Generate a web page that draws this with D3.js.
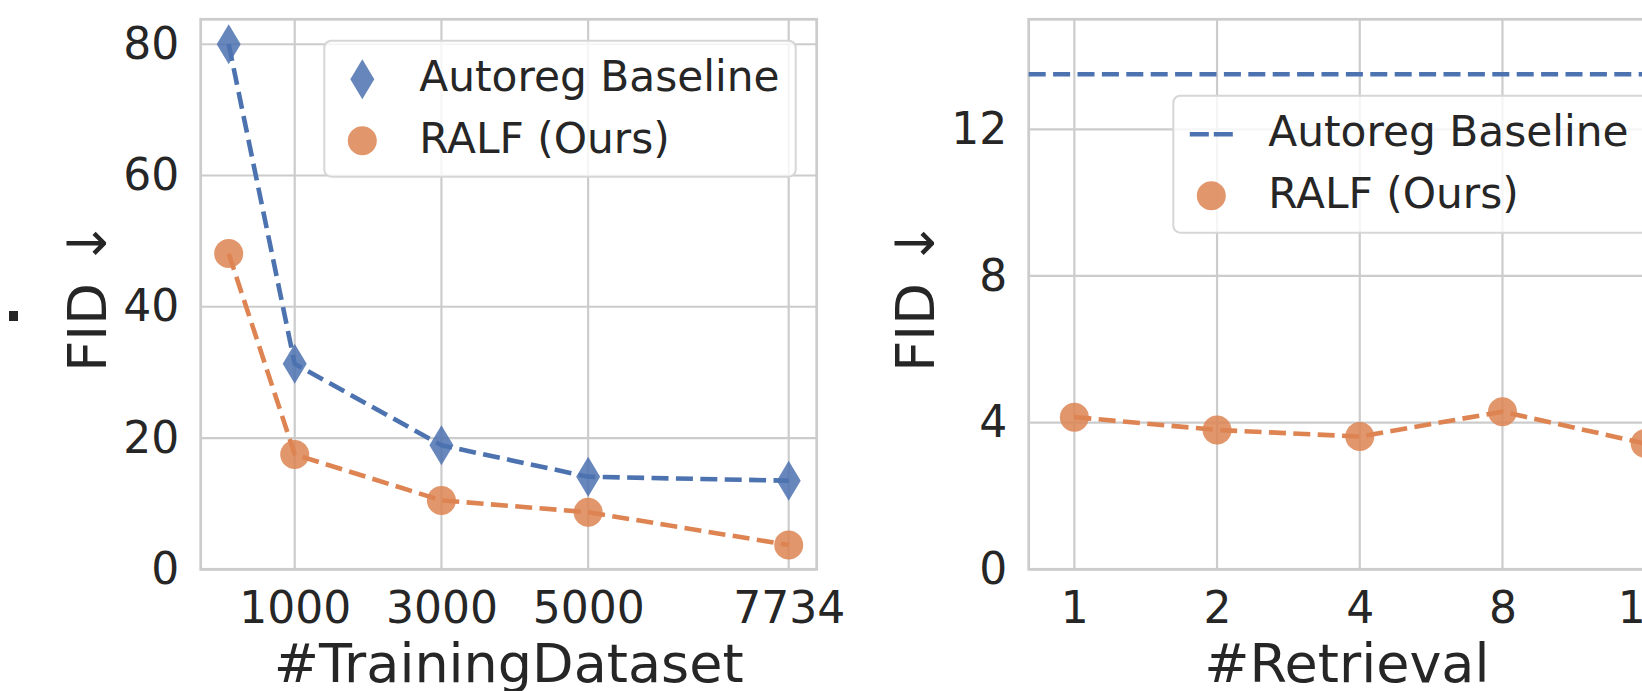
<!DOCTYPE html>
<html>
<head>
<meta charset="utf-8">
<script src="https://cdn.jsdelivr.net/npm/d3@7"></script>
<style>
  html, body { margin: 0; padding: 0; background: #ffffff; overflow: hidden; }
  svg { display: block; font-family: "DejaVu Sans", sans-serif; }
</style>
</head>
<body>
<svg id="chart" width="1642" height="691"></svg>
<script>
// ---------------- data ----------------
const trainSizes = [100, 1000, 3000, 5000, 7734];
const autoregTrain = [80.0, 31.3, 18.9, 14.1, 13.5];
const ralfTrain = [48.1, 17.5, 10.5, 8.7, 3.7];
const trainXTicks = [1000, 3000, 5000, 7734];
const trainYTicks = [0, 20, 40, 60, 80];

const retrievalCats = ["1", "2", "4", "8", "16"];
const ralfRetrieval = [4.15, 3.80, 3.62, 4.30, 3.43];
const autoregBaselineFID = 13.5;
const retrYTicks = [0, 4, 8, 12];

const seriesNames = ["Autoreg Baseline", "RALF (Ours)"];
const xLabels = ["#TrainingDataset", "#Retrieval"];
const yLabel = "FID \u2193";

// ---------------- style ----------------
const BLUE = "#4c72b0", ORANGE = "#dd8452", TEXT = "#262626", GRID = "#cccccc";
const TICK_FS = 44, LABEL_FS = 54, LEGEND_FS = 42.3;
const LW = 4.6, DASH = "17,7.4";
const MARKER_OP = 0.85;

const svg = d3.select("#chart");
svg.append("rect").attr("width", 1642).attr("height", 691).attr("fill", "#fff");

const diamondPath = "M0,-20L12,0L0,20L-12,0Z";

function drawFrame(g, x, y, xTickVals, yTickVals, xFmt, left, right, top, bottom) {
  g.append("g").selectAll("line").data(xTickVals).join("line")
    .attr("x1", d => x(d)).attr("x2", d => x(d))
    .attr("y1", top).attr("y2", bottom)
    .attr("stroke", GRID).attr("stroke-width", 2.2);
  g.append("g").selectAll("line").data(yTickVals).join("line")
    .attr("x1", left).attr("x2", right)
    .attr("y1", d => y(d)).attr("y2", d => y(d))
    .attr("stroke", GRID).attr("stroke-width", 2.2);
  g.append("rect").attr("x", left).attr("y", top)
    .attr("width", right - left).attr("height", bottom - top)
    .attr("fill", "none").attr("stroke", GRID).attr("stroke-width", 2.75);
  const xa = g.append("g").attr("transform", `translate(0,${bottom})`)
    .call(d3.axisBottom(x).tickValues(xTickVals).tickFormat(xFmt).tickSize(0).tickPadding(22));
  const ya = g.append("g").attr("transform", `translate(${left},0)`)
    .call(d3.axisLeft(y).tickValues(yTickVals).tickFormat(d3.format("d")).tickSize(0).tickPadding(21.5));
  [xa, ya].forEach(a => {
    a.select(".domain").remove();
    a.selectAll("text").attr("font-size", TICK_FS).attr("fill", TEXT)
      .attr("font-family", "DejaVu Sans");
  });
}

function dashedLine(g, pts, color) {
  g.append("path").datum(pts)
    .attr("d", d3.line().x(d => d[0]).y(d => d[1]))
    .attr("fill", "none").attr("stroke", color)
    .attr("stroke-width", LW).attr("stroke-dasharray", DASH);
}

function legend(g, x0, y0, w, h, firstIsLine) {
  const lg = g.append("g");
  lg.append("rect").attr("x", x0).attr("y", y0).attr("width", w).attr("height", h)
    .attr("rx", 7).attr("fill", "#fff").attr("fill-opacity", 0.8)
    .attr("stroke", "#d6d6d6").attr("stroke-width", 2);
  const mx = x0 + 38, tx = x0 + 95;
  const rows = [y0 + 38.5, y0 + 100];
  if (firstIsLine) {
    lg.append("line").attr("x1", mx - 21.5).attr("x2", mx + 21.5)
      .attr("y1", rows[0]).attr("y2", rows[0])
      .attr("stroke", BLUE).attr("stroke-width", LW).attr("stroke-dasharray", "19,5");
  } else {
    lg.append("path").attr("d", diamondPath)
      .attr("transform", `translate(${mx},${rows[0]})`)
      .attr("fill", BLUE).attr("fill-opacity", MARKER_OP);
  }
  lg.append("circle").attr("cx", mx).attr("cy", rows[1]).attr("r", 14.5)
    .attr("fill", ORANGE).attr("fill-opacity", MARKER_OP);
  seriesNames.forEach((s, i) => {
    lg.append("text").attr("x", tx).attr("y", rows[i] + 12)
      .attr("font-size", LEGEND_FS).attr("fill", TEXT).text(s);
  });
}

// ---------------- left panel ----------------
{
  const left = 200.7, right = 816.7, top = 19.3, bottom = 569.3;
  const x = d3.scaleLinear().domain([-281.7, 8115.7]).range([left, right]);
  const y = d3.scaleLinear().domain([0, 83.8]).range([bottom, top]);
  const g = svg.append("g");
  drawFrame(g, x, y, trainXTicks, trainYTicks, d3.format("d"), left, right, top, bottom);

  dashedLine(g, trainSizes.map((t, i) => [x(t), y(autoregTrain[i])]), BLUE);
  dashedLine(g, trainSizes.map((t, i) => [x(t), y(ralfTrain[i])]), ORANGE);

  g.append("g").selectAll("path").data(trainSizes).join("path")
    .attr("d", diamondPath)
    .attr("transform", (t, i) => `translate(${x(t)},${y(autoregTrain[i])})`)
    .attr("fill", BLUE).attr("fill-opacity", MARKER_OP);
  g.append("g").selectAll("circle").data(trainSizes).join("circle")
    .attr("cx", t => x(t)).attr("cy", (t, i) => y(ralfTrain[i])).attr("r", 14.5)
    .attr("fill", ORANGE).attr("fill-opacity", MARKER_OP);

  g.append("text").attr("x", (left + right) / 2).attr("y", 682)
    .attr("text-anchor", "middle").attr("font-size", LABEL_FS).attr("fill", TEXT)
    .text(xLabels[0]);
  g.append("text").attr("transform", `translate(106,${(top + bottom) / 2 + 2}) rotate(-90)`)
    .attr("text-anchor", "middle").attr("font-size", LABEL_FS).attr("fill", TEXT)
    .text(yLabel);

  legend(g, 324.3, 40.7, 471.4, 136, false);
}

// ---------------- right panel ----------------
{
  const left = 1028.7, top = 19.3, bottom = 569.3;
  const step = 142.7;
  const right = 1665;
  const x = d3.scaleLinear().domain([-0.32, -0.32 + (right - left) / step]).range([left, right]);
  const y = d3.scaleLinear().domain([0, 15]).range([bottom, top]);
  const idx = retrievalCats.map((c, i) => i);
  const g = svg.append("g");
  drawFrame(g, x, y, idx, retrYTicks, i => retrievalCats[i], left, right, top, bottom);

  g.append("line").attr("x1", left).attr("x2", right)
    .attr("y1", y(autoregBaselineFID)).attr("y2", y(autoregBaselineFID))
    .attr("stroke", BLUE).attr("stroke-width", LW).attr("stroke-dasharray", DASH);

  dashedLine(g, idx.map(i => [x(i), y(ralfRetrieval[i])]), ORANGE);
  g.append("g").selectAll("circle").data(idx).join("circle")
    .attr("cx", i => x(i)).attr("cy", i => y(ralfRetrieval[i])).attr("r", 14.5)
    .attr("fill", ORANGE).attr("fill-opacity", MARKER_OP);

  g.append("text").attr("x", (left + right) / 2).attr("y", 682)
    .attr("text-anchor", "middle").attr("font-size", LABEL_FS).attr("fill", TEXT)
    .text(xLabels[1]);
  g.append("text").attr("transform", `translate(934,${(top + bottom) / 2 + 2}) rotate(-90)`)
    .attr("text-anchor", "middle").attr("font-size", LABEL_FS).attr("fill", TEXT)
    .text(yLabel);

  legend(g, 1173.3, 95.7, 480, 137, true);
}

// small cropped remnant at far left
svg.append("rect").attr("x", 9).attr("y", 311).attr("width", 9).attr("height", 10).attr("fill", TEXT);
</script>
</body>
</html>
